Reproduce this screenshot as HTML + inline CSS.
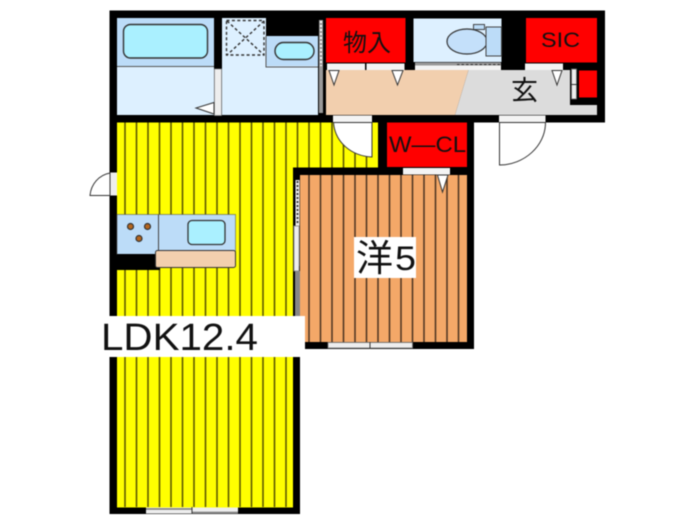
<!DOCTYPE html>
<html><head><meta charset="utf-8">
<style>
html,body{margin:0;padding:0;background:#fff}
svg{display:block;filter:blur(.45px)}
text{font-family:"Liberation Sans","Noto Sans CJK JP",sans-serif;fill:#111}
</style></head><body>
<svg width="700" height="525" viewBox="0 0 700 525" xmlns="http://www.w3.org/2000/svg">
<!-- walls -->
<rect x="109.5" y="10.5" width="495.5" height="112" fill="#000"/>
<rect x="109.5" y="122" width="190.5" height="392" fill="#000"/>
<rect x="293" y="122" width="181" height="227" fill="#000"/>
<!-- yellow LDK -->
<rect x="117" y="122.5" width="176" height="385" fill="#ff0"/>
<rect x="293" y="122.5" width="86" height="45" fill="#ff0"/>
<g stroke="#555000" stroke-width="1.5">
<path d="M125 122.5V507M136.5 122.5V507M148 122.5V507M159.5 122.5V507M171 122.5V507M182.5 122.5V507M194 122.5V507M205.5 122.5V507M217 122.5V507M228.5 122.5V507M240 122.5V507M251.5 122.5V507M263 122.5V507M274.5 122.5V507M286 122.5V507"/>
<path d="M297.5 122.5V167.5M309 122.5V167.5M320.5 122.5V167.5M332 122.5V167.5M343.5 122.5V167.5M355 122.5V167.5M366.5 122.5V167.5"/>
</g>
<rect x="293" y="167.5" width="181" height="8" fill="#000"/>
<rect x="378" y="122" width="96" height="54" fill="#000"/>
<!-- room -->
<rect x="300" y="175" width="167" height="167" fill="#f4a868"/>
<path d="M309 175V342M320.5 175V342M332 175V342M343.5 175V342M355 175V342M366.5 175V342M378 175V342M389.5 175V342M401 175V342M412.5 175V342M424 175V342M435.5 175V342M447 175V342M458.5 175V342" stroke="#4a3320" stroke-width="1.5"/>
<!-- bath -->
<rect x="117" y="18" width="97" height="48" fill="#bcdcf8"/>
<rect x="117" y="66" width="97" height="49" fill="#ddf0ff"/>
<path d="M117 66.5H214" stroke="#555" stroke-width="1"/>
<rect x="123.5" y="24.5" width="84" height="33.5" rx="7" fill="#aaf0ff" stroke="#333" stroke-width="1.4"/>
<rect x="214.5" y="69" width="7" height="46.5" fill="#eee" stroke="#888" stroke-width=".6"/>
<path d="M214 102.5L196 108L214 114Z" fill="#fff" stroke="#333" stroke-width="1"/>
<!-- wash -->
<rect x="222" y="18" width="96" height="97" fill="#ddf0ff"/>
<rect x="266" y="18" width="52" height="18" fill="#000"/>
<rect x="266" y="36" width="52" height="30" fill="#bcdcf8"/>
<path d="M266 36V67H318" fill="none" stroke="#555" stroke-width="1"/>
<rect x="275" y="42.5" width="39" height="17" rx="8.5" fill="#aaf0ff" stroke="#333" stroke-width="1.4"/>
<g fill="none" stroke="#333" stroke-width="1.4" stroke-dasharray="3 2.4">
<rect x="226.5" y="20.5" width="37.5" height="34.5"/>
<path d="M227 21L264 55M264 21L227 55"/>
</g>
<rect x="319" y="20" width="4" height="93" fill="#999"/>
<path d="M321 21V66" stroke="#fff" stroke-width="2" stroke-dasharray="2 2"/>
<!-- hall -->
<path d="M326 70H468.5L455 115H326Z" fill="#f2cfae"/>
<path d="M468.5 70H570V105H597V115H455Z" fill="#dcdcdc"/>
<rect x="571" y="70" width="26" height="35" fill="#000"/>
<rect x="579" y="70.5" width="18" height="27" fill="#f00"/>
<rect x="571.5" y="69" width="5" height="30" fill="#eee" stroke="#666" stroke-width=".8"/>
<path d="M571 84.5H577" stroke="#333"/>
<!-- closets -->
<rect x="326" y="18" width="79.5" height="44.5" fill="#f00"/>
<rect x="327" y="63.5" width="38" height="6.5" fill="#f4f4f4"/>
<rect x="366.5" y="63.5" width="38" height="6.5" fill="#f4f4f4"/>
<path d="M329 70.5L334 85L339 70.5Z M392 70.5L397.5 85L403 70.5Z" fill="#fff" stroke="#333"/>
<rect x="526" y="18" width="71" height="44.5" fill="#f00"/>
<rect x="525" y="63.5" width="38" height="6.5" fill="#f4f4f4"/>
<path d="M552 70.5L557 85L562 70.5Z" fill="#fff" stroke="#333"/>
<!-- toilet -->
<rect x="413.5" y="18.5" width="88" height="43.5" fill="#ddf0ff"/>
<rect x="415" y="62.5" width="86" height="3" fill="#999"/>
<rect x="415" y="65.5" width="86" height="4.5" fill="#f4f4f4"/>
<path d="M457 64.5H500" stroke="#333" stroke-dasharray="2.5 2"/>
<rect x="473.5" y="24.5" width="11" height="5" fill="#bcdcf8" stroke="#333" stroke-width=".9"/>
<ellipse cx="467" cy="41.5" rx="20" ry="12.5" fill="#c4e0fa" stroke="#333" stroke-width="1.2"/>
<rect x="486" y="27" width="15.5" height="29" fill="#bcdcf8" stroke="#444" stroke-width="1"/>
<!-- doors -->
<rect x="333" y="115.5" width="39" height="7" fill="#f4f4f4"/>
<path d="M333.5 122.5H372V157C351 156 335 142 333.5 122.5Z" fill="#fff" stroke="#333" stroke-width="1"/>
<rect x="499" y="115.5" width="46.5" height="7" fill="#f4f4f4"/>
<path d="M499.5 122.5H545.5C545.5 146 524 165 499.5 165Z" fill="#fff" stroke="#333" stroke-width="1"/>
<rect x="110" y="172.5" width="7" height="23" fill="#eee"/>
<path d="M110 173C99 175 91 184 90 195.5H110Z" fill="#fff" stroke="#333" stroke-width="1"/>
<!-- WCL -->
<rect x="387" y="122.5" width="80" height="44.5" fill="#f00"/>
<rect x="403" y="168" width="47" height="6.5" fill="#f4f4f4"/>
<path d="M437.5 175L442.5 192L448 175Z" fill="#fff" stroke="#333"/>
<!-- kitchen -->
<rect x="117" y="214.5" width="118.5" height="40" fill="#bcdcf8" stroke="#555" stroke-width=".6"/>
<path d="M158.500 214.5V254" stroke="#444"/>
<rect x="117" y="254" width="43" height="16" fill="#000"/>
<rect x="188" y="220.5" width="37" height="24" rx="4" fill="#aaf0ff" stroke="#333" stroke-width="1.3"/>
<rect x="155.5" y="250.5" width="80" height="17" rx="2" fill="#f2cfae" stroke="#333" stroke-width="1"/>
<g fill="#b5651d" stroke="#333" stroke-width="1.2">
<circle cx="130.5" cy="226.5" r="3"/><circle cx="147.5" cy="226.5" r="3"/><circle cx="139" cy="238.5" r="3"/>
</g>
<!-- room left slider -->
<rect x="295.5" y="180" width="4" height="86" fill="#eee"/>
<path d="M297.5 181V225" stroke="#444" stroke-width="2" stroke-dasharray="2 2"/>
<rect x="294" y="226" width="5" height="45" fill="#eee" stroke="#888" stroke-width=".8"/>
<rect x="295" y="271" width="5" height="46" fill="#888"/>
<!-- windows -->
<rect x="328" y="342.5" width="84.5" height="5.5" fill="#eee" stroke="#777" stroke-width=".8"/>
<path d="M370 342V349" stroke="#333"/>
<rect x="146" y="507.5" width="92" height="6" fill="#eee"/>
<path d="M146 509H192M192 512.5H238" stroke="#777" stroke-width="1.5"/>
<path d="M192 507V514" stroke="#333"/>
<!-- labels -->
<rect x="100" y="316" width="205" height="41" fill="#fff"/>
<rect x="354" y="237" width="62" height="41" fill="#fff"/>
<text x="101" y="350" font-size="38" textLength="157" lengthAdjust="spacingAndGlyphs">LDK12.4</text>
<text x="356" y="271" font-size="37">洋</text>
<text x="395" y="270" font-size="34" textLength="21" lengthAdjust="spacingAndGlyphs">5</text>
<text x="343" y="51" font-size="24">物入</text>
<text x="541" y="47" font-size="21" textLength="39" lengthAdjust="spacingAndGlyphs">SIC</text>
<text x="511" y="100" font-size="27">玄</text>
<text x="389" y="152" font-size="22" textLength="77" lengthAdjust="spacingAndGlyphs">W—CL</text>
</svg>
</body></html>
